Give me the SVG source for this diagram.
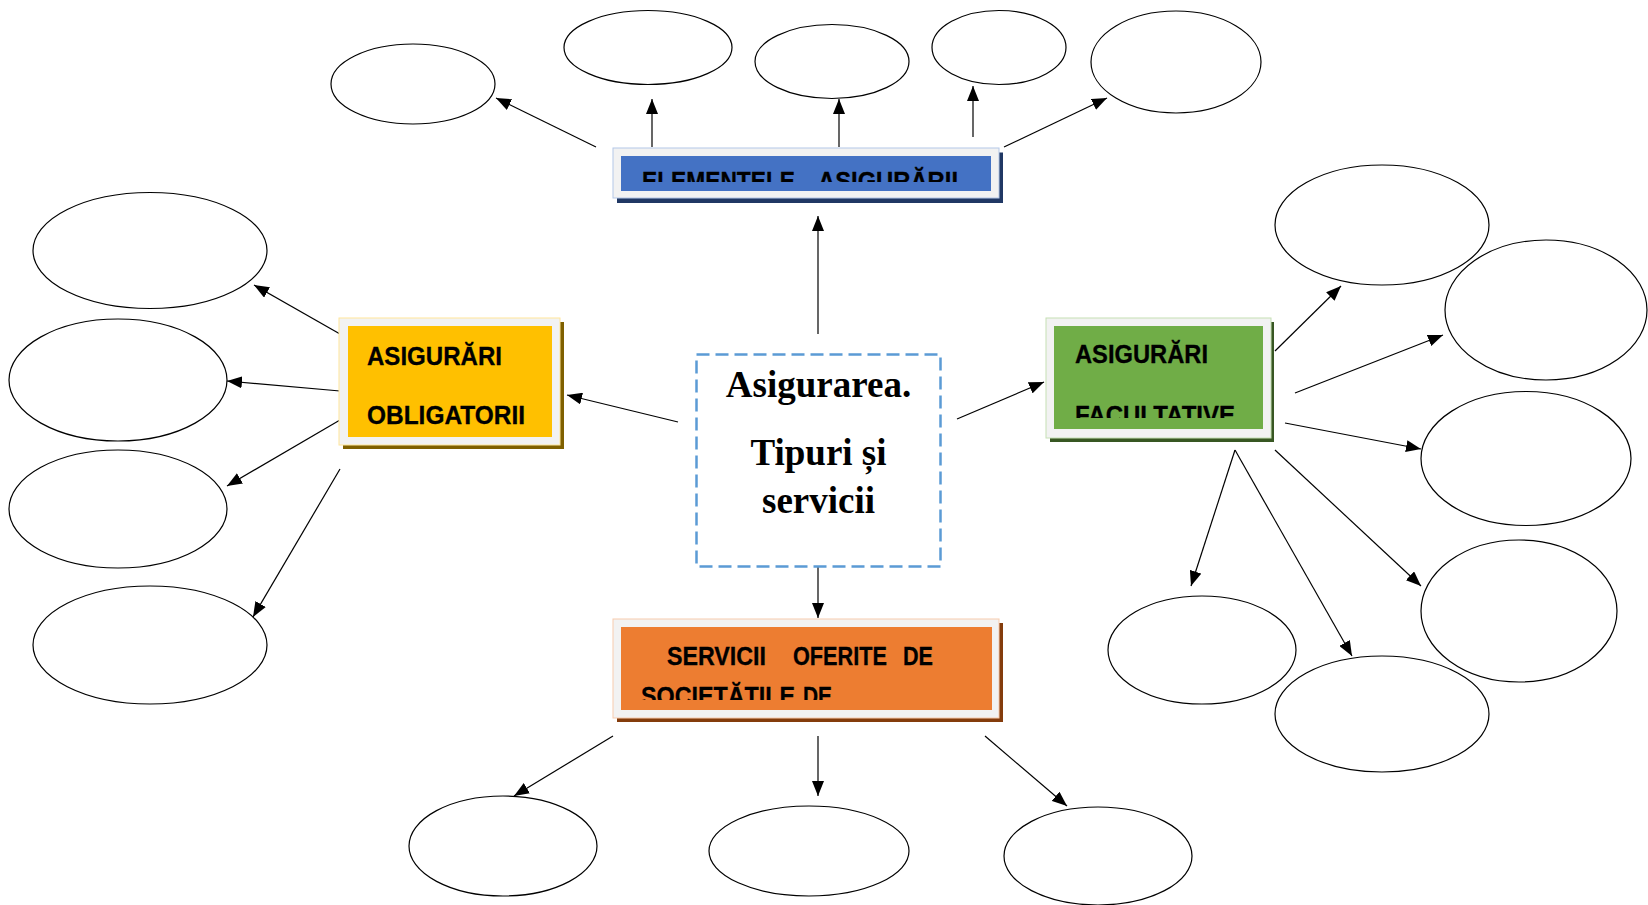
<svg xmlns="http://www.w3.org/2000/svg" width="1648" height="905" viewBox="0 0 1648 905">
<style>
.ell{fill:#fff;stroke:#000;stroke-width:1.2}
.con{stroke:#000;stroke-width:1.2;fill:none;marker-end:url(#ah)}
.frame{fill:#F2F2F2;stroke-width:1}
.lbl{font-family:"Liberation Sans",Arial,sans-serif;font-weight:bold;font-size:25px;fill:#000;stroke:#000;stroke-width:0.3}
.ctr{font-family:"Liberation Serif","Times New Roman",serif;font-weight:bold;font-size:37px;fill:#000;text-anchor:middle}
</style>
<defs>
<marker id="ah" markerUnits="userSpaceOnUse" markerWidth="15" markerHeight="12" refX="15" refY="6" orient="auto">
<path d="M0,0 L15,6 L0,12 z" fill="#000"/>
</marker>
<clipPath id="clipBlue"><rect x="621" y="156" width="370" height="26"/></clipPath>
<clipPath id="clipGreen"><rect x="1054" y="326" width="209" height="92"/></clipPath>
<clipPath id="clipOrange"><rect x="621" y="627" width="371" height="73"/></clipPath>
</defs>
<rect width="1648" height="905" fill="#fff"/>

<g id="connectors">
<line class="con" x1="818" y1="334" x2="818" y2="216"/>
<line class="con" x1="818" y1="567" x2="818" y2="618"/>
<line class="con" x1="678" y1="422" x2="567" y2="395"/>
<line class="con" x1="957" y1="419" x2="1044" y2="382"/>
<line class="con" x1="596" y1="147" x2="496" y2="98"/>
<line class="con" x1="652" y1="147" x2="652" y2="99"/>
<line class="con" x1="839" y1="147" x2="839" y2="99"/>
<line class="con" x1="973" y1="137" x2="973" y2="86"/>
<line class="con" x1="1004" y1="147" x2="1107" y2="98"/>
<line class="con" x1="340" y1="334" x2="254" y2="285"/>
<line class="con" x1="340" y1="391" x2="227" y2="381"/>
<line class="con" x1="340" y1="420" x2="227" y2="486"/>
<line class="con" x1="340" y1="469" x2="253" y2="617"/>
<line class="con" x1="1275" y1="351" x2="1341" y2="286"/>
<line class="con" x1="1295" y1="393" x2="1443" y2="335"/>
<line class="con" x1="1285" y1="423" x2="1421" y2="449"/>
<line class="con" x1="1275" y1="450" x2="1421" y2="586"/>
<line class="con" x1="1235" y1="450" x2="1352" y2="656"/>
<line class="con" x1="1235" y1="450" x2="1191" y2="586"/>
<line class="con" x1="613" y1="736" x2="514" y2="796"/>
<line class="con" x1="818" y1="736" x2="818" y2="796"/>
<line class="con" x1="985" y1="736" x2="1067" y2="806"/>
</g>

<g id="node-center">
<rect x="696.5" y="354.5" width="244" height="212" fill="#fff" stroke="#5B9BD5" stroke-width="2.5" stroke-dasharray="13 6"/>
<text class="ctr" x="818.5" y="397">Asigurarea.</text>
<text class="ctr" x="818.5" y="465">Tipuri și</text>
<text class="ctr" x="818.5" y="513">servicii</text>
</g>

<g id="node-elemente">
<rect x="617" y="152.5" width="386" height="50.5" fill="#203864"/>
<rect class="frame" x="613" y="148" width="386" height="50" stroke="#B4C7E7"/>
<rect x="621" y="156" width="370" height="35" fill="#4472C4"/>
<g clip-path="url(#clipBlue)">
<text class="lbl" x="642" y="190" textLength="153" lengthAdjust="spacingAndGlyphs">ELEMENTELE</text>
<text class="lbl" x="818" y="190" textLength="140" lengthAdjust="spacingAndGlyphs">ASIGURĂRII</text>
</g>
</g>

<g id="node-obligatorii">
<rect x="343" y="322" width="221" height="127" fill="#7F6000"/>
<rect class="frame" x="339" y="318" width="221" height="127" stroke="#FFE699"/>
<rect x="348" y="326" width="204" height="111" fill="#FFC000"/>
<text class="lbl" x="367" y="365" textLength="135" lengthAdjust="spacingAndGlyphs">ASIGURĂRI</text>
<text class="lbl" x="367" y="424" textLength="158" lengthAdjust="spacingAndGlyphs">OBLIGATORII</text>
</g>

<g id="node-facultative">
<rect x="1050" y="322" width="224" height="120" fill="#385723"/>
<rect class="frame" x="1046" y="318" width="225" height="120" stroke="#C5E0B4"/>
<rect x="1054" y="326" width="209" height="103" fill="#70AD47"/>
<g clip-path="url(#clipGreen)">
<text class="lbl" x="1075" y="363" textLength="133" lengthAdjust="spacingAndGlyphs">ASIGURĂRI</text>
<text class="lbl" x="1075" y="424" textLength="160" lengthAdjust="spacingAndGlyphs">FACULTATIVE</text>
</g>
</g>

<g id="node-servicii">
<rect x="617" y="623" width="386" height="99" fill="#843C0C"/>
<rect class="frame" x="613" y="619" width="386" height="99" stroke="#F8CBAD"/>
<rect x="621" y="627" width="371" height="83" fill="#ED7D31"/>
<g clip-path="url(#clipOrange)">
<text class="lbl" x="667" y="665" textLength="99" lengthAdjust="spacingAndGlyphs">SERVICII</text>
<text class="lbl" x="793" y="665" textLength="94" lengthAdjust="spacingAndGlyphs">OFERITE</text>
<text class="lbl" x="903" y="665" textLength="30" lengthAdjust="spacingAndGlyphs">DE</text>
<text class="lbl" x="641" y="705" textLength="154" lengthAdjust="spacingAndGlyphs">SOCIETĂȚILE</text>
<text class="lbl" x="803" y="705" textLength="29" lengthAdjust="spacingAndGlyphs">DE</text>
</g>
</g>

<g id="top-ellipses">
<ellipse id="e-top-1" class="ell" cx="413" cy="84" rx="82" ry="40"/>
<ellipse id="e-top-2" class="ell" cx="648" cy="47.5" rx="84" ry="37"/>
<ellipse id="e-top-3" class="ell" cx="832" cy="61.5" rx="77" ry="37"/>
<ellipse id="e-top-4" class="ell" cx="999" cy="47.5" rx="67" ry="37"/>
<ellipse id="e-top-5" class="ell" cx="1176" cy="62" rx="85" ry="51"/>
</g>
<g id="left-ellipses">
<ellipse id="e-left-1" class="ell" cx="150" cy="250.5" rx="117" ry="58"/>
<ellipse id="e-left-2" class="ell" cx="118" cy="380" rx="109" ry="61"/>
<ellipse id="e-left-3" class="ell" cx="118" cy="509" rx="109" ry="59"/>
<ellipse id="e-left-4" class="ell" cx="150" cy="645" rx="117" ry="59"/>
</g>
<g id="right-ellipses">
<ellipse id="e-right-1" class="ell" cx="1382" cy="225" rx="107" ry="60"/>
<ellipse id="e-right-2" class="ell" cx="1546" cy="310" rx="101" ry="70"/>
<ellipse id="e-right-3" class="ell" cx="1526" cy="458.5" rx="105" ry="67"/>
<ellipse id="e-right-4" class="ell" cx="1519" cy="611" rx="98" ry="71"/>
<ellipse id="e-right-5" class="ell" cx="1382" cy="714" rx="107" ry="58"/>
<ellipse id="e-right-6" class="ell" cx="1202" cy="650" rx="94" ry="54"/>
</g>
<g id="bottom-ellipses">
<ellipse id="e-bot-1" class="ell" cx="503" cy="846" rx="94" ry="50"/>
<ellipse id="e-bot-2" class="ell" cx="809" cy="851" rx="100" ry="45"/>
<ellipse id="e-bot-3" class="ell" cx="1098" cy="856" rx="94" ry="49"/>
</g>
</svg>
